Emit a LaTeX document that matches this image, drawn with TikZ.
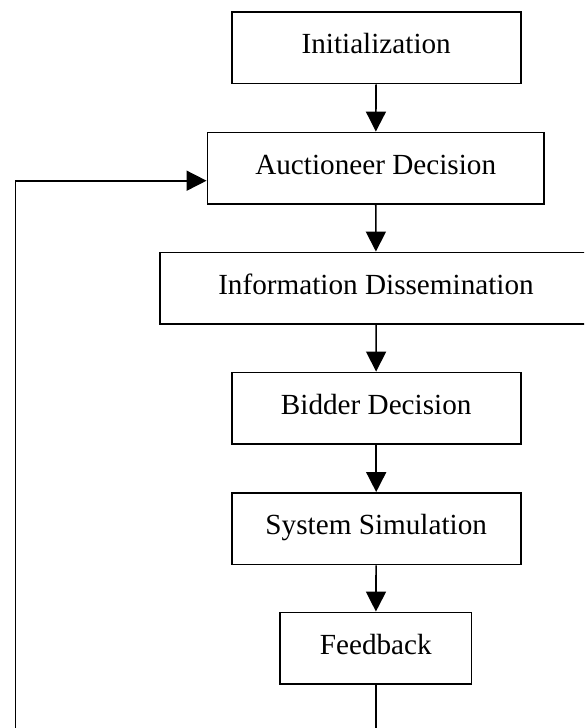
\documentclass[tikz,border=0pt]{standalone}
\usepackage{fontspec}
\setmainfont{Liberation Serif}
\usetikzlibrary{arrows.meta}
\begin{document}
\begin{tikzpicture}[x=1pt, y=-1pt,
  stage/.style={draw, line width=1.6pt, rectangle, inner xsep=0pt, inner ysep=0pt,
    text height=42pt, text depth=29.7pt, minimum width=#1,
    font=\fontsize{29.2}{35}\selectfont},
  flow/.style={line width=1.6pt, -{Triangle[length=20pt, width=20pt]}},
  loop/.style={line width=1.6pt}]
  \useasboundingbox (0,0) rectangle (584,728);
  \clip (0,0) rectangle (584,728);

  % process stages, top to bottom
  \node[stage=289pt]   (init) at (376.2, 47.8)  {Initialization};
  \node[stage=336.7pt] (auc)  at (375.7,168.2)  {Auctioneer Decision};
  \node[stage=432pt]   (info) at (376.0,288.2)  {Information Dissemination};
  \node[stage=289pt]   (bid)  at (376.2,408.2)  {Bidder Decision};
  \node[stage=289pt]   (sim)  at (376.2,528.7)  {System Simulation};
  \node[stage=191.7pt] (fb)   at (375.8,648.2)  {Feedback};

  % main flow
  \draw[flow] (init) -- (auc);
  \draw[flow] (auc)  -- (info);
  \draw[flow] (info) -- (bid);
  \draw[flow] (bid)  -- (sim);
  \draw[flow] (sim)  -- (fb);

  % feedback loop back to the auctioneer
  \coordinate (down)  at (375.8,745);
  \coordinate (left)  at (15.3,745);
  \coordinate (upper) at (15.3,180.7);
  \draw[loop] (fb.south) -- (down) -- (left) -- (upper);
  \draw[flow] (upper) -- (auc.west |- upper);
\end{tikzpicture}
\end{document}
